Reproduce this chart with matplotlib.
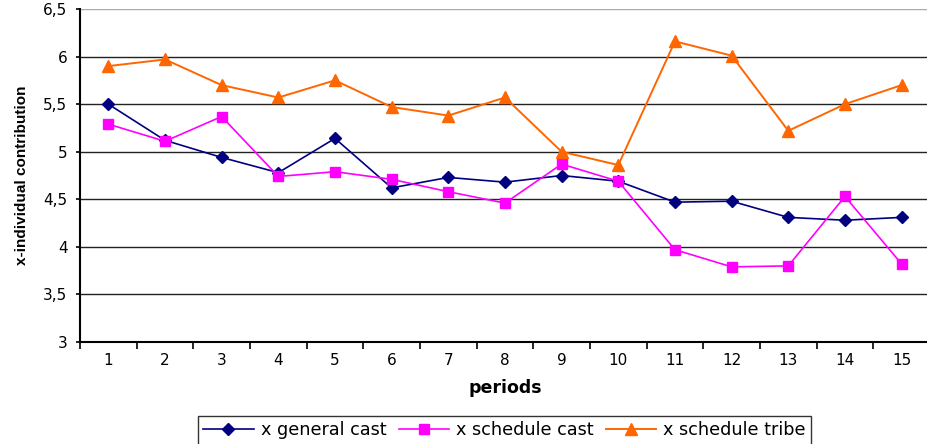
import matplotlib
matplotlib.use("Agg")
import matplotlib.pyplot as plt
from matplotlib.ticker import FixedLocator, FuncFormatter

periods = list(range(1, 16))
general_cast = [5.50, 5.12, 4.94, 4.78, 5.14, 4.62, 4.73, 4.68, 4.75, 4.69, 4.47, 4.48, 4.31, 4.28, 4.31]
schedule_cast = [5.29, 5.11, 5.37, 4.74, 4.79, 4.71, 4.58, 4.46, 4.87, 4.69, 3.97, 3.79, 3.80, 4.53, 3.82]
schedule_tribe = [5.90, 5.97, 5.70, 5.57, 5.75, 5.47, 5.38, 5.57, 5.00, 4.86, 6.16, 6.01, 5.22, 5.50, 5.70]
y_ticks = [3, 3.5, 4, 4.5, 5, 5.5, 6, 6.5]

fig = plt.figure(figsize=(9.28, 4.44), dpi=100)
ax = fig.add_axes([0.0862, 0.2297, 0.9159, 0.75])

ax.plot(periods, general_cast, color="#000080", marker="D", markersize=6.5, lw=1.2,
        label="x general cast")
ax.plot(periods, schedule_cast, color="#FF00FF", marker="s", markersize=7, lw=1.2,
        label="x schedule cast")
ax.plot(periods, schedule_tribe, color="#FF6600", marker="^", markersize=9, lw=1.4,
        label="x schedule tribe")

ax.set_xlim(0.5, 15.5)
ax.set_ylim(3, 6.5)
ax.set_xticks(periods)
ax.set_xticklabels([str(p) for p in periods], fontsize=11)
ax.xaxis.set_minor_locator(FixedLocator([p + 0.5 for p in range(0, 16)]))
ax.tick_params(axis="x", which="major", length=0, pad=8)
ax.tick_params(axis="x", which="minor", length=5, width=1.2, direction="out")
ax.set_yticks(y_ticks)
ax.yaxis.set_major_formatter(FuncFormatter(lambda v, pos: f"{v:g}".replace(".", ",")))
ax.tick_params(axis="y", length=3, width=1.2, labelsize=11, pad=6)

ax.grid(axis="y", color="#222222", lw=1.0)
ax.yaxis.get_gridlines()[-1].set_color("#aaaaaa")
ax.set_axisbelow(True)

for side in ["top", "right"]:
    ax.spines[side].set_visible(False)
ax.spines["left"].set_linewidth(1.5)
ax.spines["bottom"].set_linewidth(1.5)

ax.set_ylabel("x-individual contribution", fontsize=11, fontweight="bold",
              family="Liberation Sans", labelpad=10)
ax.set_xlabel("periods", fontsize=12.5, fontweight="bold", labelpad=8)

leg = fig.legend(loc="center", bbox_to_anchor=(0.5437, 0.031), ncol=3, fontsize=12.7,
                 frameon=True, fancybox=False, edgecolor="black", handlelength=2.85,
                 columnspacing=0.7, handletextpad=0.4, borderpad=0.3, borderaxespad=0)
leg.get_frame().set_linewidth(1.0)

fig.savefig("out.png", dpi=100)
